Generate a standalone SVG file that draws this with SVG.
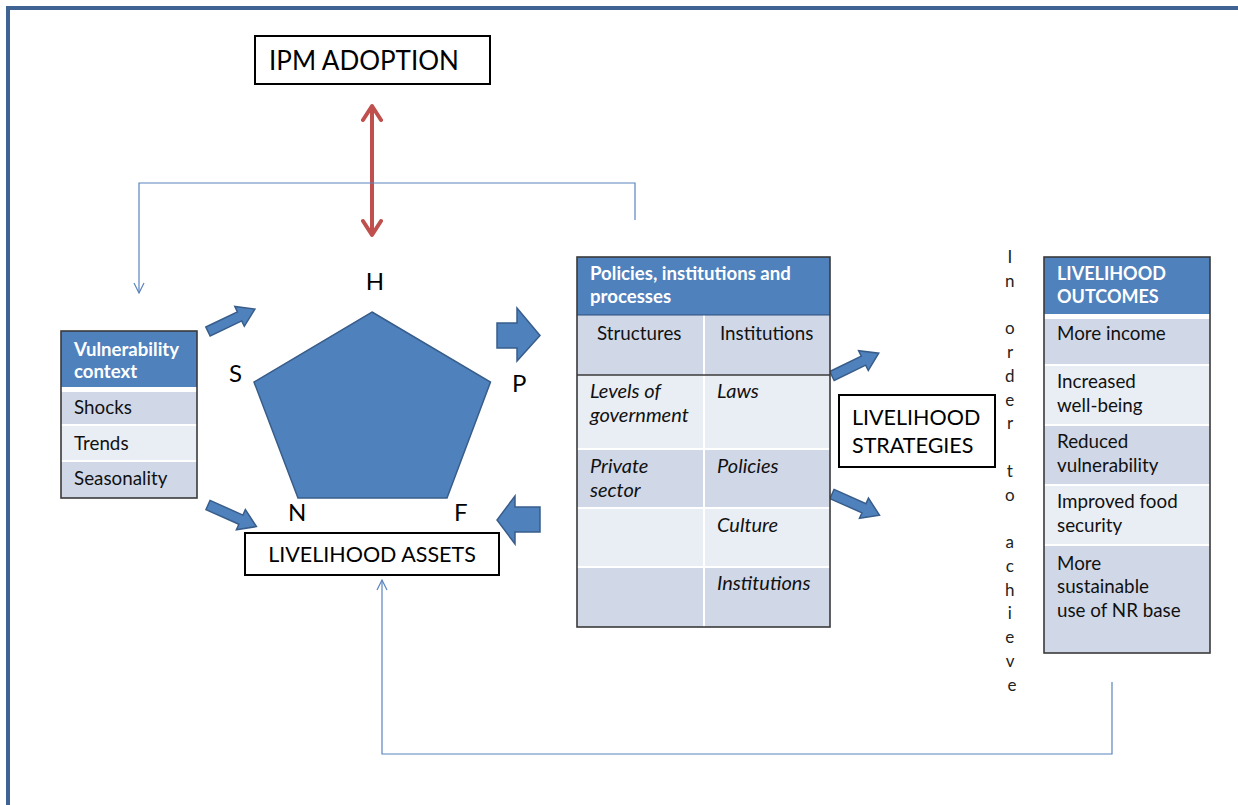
<svg xmlns="http://www.w3.org/2000/svg" width="1238" height="805" viewBox="0 0 1238 805">
<style>
  text { font-family: Lato, "Liberation Sans", sans-serif; fill: #000; }
  .big { font-size: 21.5px; }
  .lbl { font-size: 24px; }
  .hdr { font-size: 18.6px; font-weight: bold; fill: #fff; }
  .row { font-size: 18.8px; fill: #111; }
  .it { font-style: italic; font-size: 20px; }
  .vert { font-size: 17px; fill: #222; }
  .box { fill: #fff; stroke: #000; stroke-width: 2; }
  .tbl { fill: none; stroke: #3a3a3a; stroke-width: 1.6; }
  .hd { fill: #4F81BD; }
  .dk { fill: #D0D8E8; }
  .lt { fill: #E9EDF4; }
  .sep { stroke: #fff; stroke-width: 2; }
  .blk { fill: #4F81BD; stroke: #385D8A; stroke-width: 1.5; stroke-linejoin: miter; }
  .thin { fill: none; stroke: #5B84BE; stroke-width: 1.2; }
  .red { fill: none; stroke: #C0504D; stroke-width: 4; }
</style>
<defs>
  <marker id="openThin" viewBox="0 0 12 12" refX="11" refY="6" markerWidth="12" markerHeight="12" markerUnits="userSpaceOnUse" orient="auto">
    <path d="M1,1 L11,6 L1,11" fill="none" stroke="#5B84BE" stroke-width="1.2"/>
  </marker>
  <marker id="openRed" viewBox="0 0 20 22" refX="17" refY="11" markerWidth="20" markerHeight="22" markerUnits="userSpaceOnUse" orient="auto-start-reverse">
    <path d="M3,2 L17,11 L3,20" fill="none" stroke="#C0504D" stroke-width="4" stroke-linecap="round" stroke-linejoin="round"/>
  </marker>
</defs>
<rect x="0" y="0" width="1238" height="805" fill="#fff"/>
<rect x="8" y="8" width="1400" height="1000" fill="none" stroke="#3F6393" stroke-width="4"/>

<g id="connectors">
  <path class="red" d="M372,106 L372,235" marker-start="url(#openRed)" marker-end="url(#openRed)"/>
  <path class="thin" d="M635,220 L635,183 L139,183 L139,293" marker-end="url(#openThin)"/>
  <path class="thin" d="M1112,682 L1112,754 L382,754 L382,580" marker-end="url(#openThin)"/>
  <polygon class="blk" transform="translate(208,331.5) rotate(-25.6)" points="0,-5 35,-5 35,-11 52,0 35,11 35,5 0,5"/>
  <polygon class="blk" transform="translate(208,505) rotate(24)" points="0,-5 36,-5 36,-11 53,0 36,11 36,5 0,5"/>
  <polygon class="blk" transform="translate(832,376) rotate(-26)" points="0,-5 35,-5 35,-11 52,0 35,11 35,5 0,5"/>
  <polygon class="blk" transform="translate(832,494) rotate(24)" points="0,-5 35,-5 35,-11 52,0 35,11 35,5 0,5"/>
  <polygon class="blk" points="497,323 517,323 517,308 540,335.5 517,361 517,348 497,348"/>
  <polygon class="blk" points="540,507 515,507 515,496 497,520 515,544 515,532 540,532"/>
</g>

<g id="ipm-adoption">
  <rect class="box" x="255" y="36" width="235" height="48"/>
  <text x="269" y="70" style="font-size:26px">IPM ADOPTION</text>
</g>

<g id="assets-pentagon">
  <polygon points="372,312 490.5,382 447,498 298,498 254,382" fill="#4F81BD" stroke="#385D8A" stroke-width="1.5"/>
  <text class="lbl" x="375" y="290" text-anchor="middle">H</text>
  <text class="lbl" x="229" y="382">S</text>
  <text class="lbl" x="512" y="392">P</text>
  <text class="lbl" x="288" y="521">N</text>
  <text class="lbl" x="454" y="521">F</text>
</g>

<g id="livelihood-assets">
  <rect class="box" x="245" y="533" width="254" height="42"/>
  <text class="big" x="372" y="562" text-anchor="middle">LIVELIHOOD ASSETS</text>
</g>

<g id="vulnerability-context">
  <rect class="hd" x="61" y="331" width="136" height="56"/>
  <rect fill="#fff" x="61" y="387" width="136" height="5"/>
  <rect class="dk" x="61" y="392" width="136" height="33"/>
  <rect class="lt" x="61" y="425" width="136" height="36"/>
  <rect class="dk" x="61" y="461" width="136" height="37"/>
  <line class="sep" x1="61" y1="425" x2="197" y2="425"/>
  <line class="sep" x1="61" y1="461" x2="197" y2="461"/>
  <rect class="tbl" x="61" y="331" width="136" height="167"/>
  <text class="hdr" x="74" y="356">Vulnerability</text>
  <text class="hdr" x="74" y="378">context</text>
  <text class="row" x="74" y="414">Shocks</text>
  <text class="row" x="74" y="450">Trends</text>
  <text class="row" x="74" y="485">Seasonality</text>
</g>

<g id="policies-institutions-processes">
  <rect class="hd" x="577" y="257" width="253" height="58"/>
  <rect class="dk" x="577" y="315" width="253" height="60"/>
  <rect class="lt" x="577" y="375" width="253" height="74"/>
  <rect class="dk" x="577" y="449" width="253" height="59"/>
  <rect class="lt" x="577" y="508" width="253" height="59"/>
  <rect class="dk" x="577" y="567" width="253" height="60"/>
  <line class="sep" x1="577" y1="449" x2="830" y2="449"/>
  <line class="sep" x1="577" y1="508" x2="830" y2="508"/>
  <line class="sep" x1="577" y1="567" x2="830" y2="567"/>
  <line class="sep" x1="704" y1="315" x2="704" y2="627"/>
  <line x1="577" y1="375" x2="830" y2="375" stroke="#3a3a3a" stroke-width="1.6"/>
  <line x1="577" y1="315" x2="830" y2="315" stroke="#2d4f7c" stroke-width="1.2"/>
  <rect class="tbl" x="577" y="257" width="253" height="370"/>
  <text class="hdr" x="590" y="280">Policies, institutions and</text>
  <text class="hdr" x="590" y="303">processes</text>
  <text class="row" x="597" y="340">Structures</text>
  <text class="row" x="720" y="340">Institutions</text>
  <text class="row it" x="590" y="398">Levels of</text>
  <text class="row it" x="590" y="422">government</text>
  <text class="row it" x="717" y="398">Laws</text>
  <text class="row it" x="590" y="473">Private</text>
  <text class="row it" x="590" y="497">sector</text>
  <text class="row it" x="717" y="473">Policies</text>
  <text class="row it" x="717" y="532">Culture</text>
  <text class="row it" x="717" y="590">Institutions</text>
</g>

<g id="livelihood-strategies">
  <rect class="box" x="839" y="395" width="156" height="72"/>
  <text class="big" x="852" y="425">LIVELIHOOD</text>
  <text class="big" x="852" y="453">STRATEGIES</text>
</g>

<g id="in-order-to-achieve">
  <text class="vert" text-anchor="middle">
    <tspan x="1012" y="263">I</tspan>
    <tspan x="1012" y="286.75">n</tspan>
    <tspan x="1012" y="334.25">o</tspan>
    <tspan x="1012" y="358">r</tspan>
    <tspan x="1012" y="381.75">d</tspan>
    <tspan x="1012" y="405.5">e</tspan>
    <tspan x="1012" y="429.25">r</tspan>
    <tspan x="1012" y="476.75">t</tspan>
    <tspan x="1012" y="500.5">o</tspan>
    <tspan x="1012" y="548">a</tspan>
    <tspan x="1012" y="571.75">c</tspan>
    <tspan x="1012" y="595.5">h</tspan>
    <tspan x="1012" y="619.25">i</tspan>
    <tspan x="1012" y="643">e</tspan>
    <tspan x="1012" y="666.75">v</tspan>
    <tspan x="1012" y="690.5">e</tspan>
  </text>
</g>

<g id="livelihood-outcomes">
  <rect class="hd" x="1044" y="257" width="166" height="57"/>
  <rect fill="#fff" x="1044" y="314" width="166" height="5"/>
  <rect class="dk" x="1044" y="319" width="166" height="46"/>
  <rect class="lt" x="1044" y="365" width="166" height="60"/>
  <rect class="dk" x="1044" y="425" width="166" height="60"/>
  <rect class="lt" x="1044" y="485" width="166" height="60"/>
  <rect class="dk" x="1044" y="545" width="166" height="108"/>
  <line class="sep" x1="1044" y1="365" x2="1210" y2="365"/>
  <line class="sep" x1="1044" y1="425" x2="1210" y2="425"/>
  <line class="sep" x1="1044" y1="485" x2="1210" y2="485"/>
  <line class="sep" x1="1044" y1="545" x2="1210" y2="545"/>
  <rect class="tbl" x="1044" y="257" width="166" height="396"/>
  <text class="hdr" x="1057" y="280" style="font-size:18px">LIVELIHOOD</text>
  <text class="hdr" x="1057" y="303" style="font-size:18px">OUTCOMES</text>
  <text class="row" x="1057" y="340">More income</text>
  <text class="row" x="1057" y="388">Increased</text>
  <text class="row" x="1057" y="412">well-being</text>
  <text class="row" x="1057" y="448">Reduced</text>
  <text class="row" x="1057" y="472">vulnerability</text>
  <text class="row" x="1057" y="508">Improved food</text>
  <text class="row" x="1057" y="532">security</text>
  <text class="row" x="1057" y="570">More</text>
  <text class="row" x="1057" y="593">sustainable</text>
  <text class="row" x="1057" y="617">use of NR base</text>
</g>
</svg>
